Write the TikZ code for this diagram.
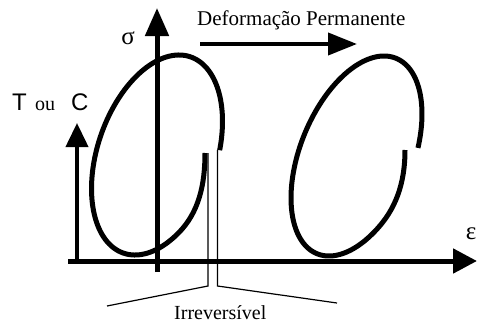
\documentclass[tikz,border=0pt]{standalone}
\usepackage{fontspec}
\setmainfont{Liberation Serif}
\newfontfamily\sansf{Liberation Sans}
\usetikzlibrary{arrows.meta}
\begin{document}
\begin{tikzpicture}[x=1pt,y=1pt,
  thick axis/.style={line width=5pt},
  loopline/.style={line width=5pt, line join=round},
  thinline/.style={line width=1.2pt},
  lbl/.style={inner sep=0pt, font=\fontsize{20}{24}\selectfont},
  sanslbl/.style={inner sep=0pt, font=\sansf\fontsize{24}{28}\selectfont},
  greek/.style={inner sep=0pt, font=\fontsize{25}{30}\selectfont}]
\useasboundingbox (0,0) rectangle (477,325);
% axes
\coordinate (xs) at (68,64);  \coordinate (xe) at (477,64);
\coordinate (ss) at (157,53); \coordinate (se) at (157,317);
\coordinate (ts) at (77,64);  \coordinate (te) at (77,202);
\coordinate (ds) at (200,281); \coordinate (de) at (357,281);
\draw[thick axis, -{Triangle[length=24pt,width=24pt]}] (xs) -- (xe);
\draw[thick axis, -{Triangle[length=28pt,width=23pt]}] (ss) -- (se);
\draw[line width=4pt, -{Triangle[length=24pt,width=22pt]}] (ts) -- (te);
\draw[line width=4pt, -{Triangle[length=29pt,width=22pt]}] (ds) -- (de);
% loops
\draw[loopline] plot[variable=\t, domain=-76.2:230, samples=140]
  ({157+103.7*cos(\t)*0.3223-59.5*sin(\t)*0.9466},{170+103.7*cos(\t)*0.9466+59.5*sin(\t)*0.3223})
  .. controls (198.7,112.6) and (205,140) .. (205,172);
\draw[loopline] plot[variable=\t, domain=-73.2:235, samples=140]
  ({356.5+105.4*cos(\t)*0.3738-56.4*sin(\t)*0.9275},{169+105.4*cos(\t)*0.9275+56.4*sin(\t)*0.3738})
  .. controls (394.8,115.3) and (405,140) .. (405,175);
% irreversible markers
\coordinate (l1) at (208,172); \coordinate (l2) at (208,39); \coordinate (l3) at (107,19);
\coordinate (r1) at (217.5,175); \coordinate (r2) at (217.5,39); \coordinate (r3) at (337,22);
\draw[thinline] (l1) -- (l2) -- (l3);
\draw[thinline] (r1) -- (r2) -- (r3);
% labels
\node[greek] (sigma) at (128,287) {σ};
\node[greek] (eps) at (471,91) {ε};
\node[sanslbl, anchor=base west] (T) at (12,215) {T};
\node[lbl, anchor=base west] (ou) at (35,215) {ou};
\node[sanslbl, anchor=base west] (C) at (71,215) {C};
\node[lbl, font=\fontsize{21}{25}\selectfont, anchor=base west] (def) at (197,300) {Deformação Permanente};
\node[lbl, anchor=base west] (irr) at (174,6) {Irreversível};
\end{tikzpicture}
\end{document}
